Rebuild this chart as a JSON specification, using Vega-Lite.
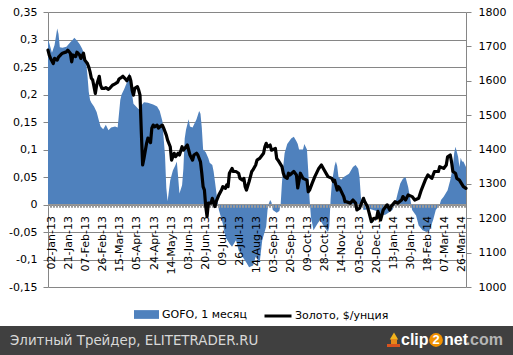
{
  "$schema": "https://vega.github.io/schema/vega-lite/v6.json",
  "width": 418,
  "height": 275,
  "autosize": {"type": "none"},
  "padding": {"left": 48, "top": 12, "right": 47, "bottom": 68},
  "background": "white",
  "config": {
    "view": {"stroke": null},
    "font": "DejaVu Sans",
    "locale": {"number": {"decimal": ",", "thousands": " ", "grouping": [3], "currency": ["", ""], "minus": "-"}}
  },
  "datasets": {
    "gofo": [
      {"i":0,"v":0.30},{"i":1,"v":0.293},{"i":3,"v":0.276},{"i":5,"v":0.29},{"i":7,"v":0.32},{"i":8,"v":0.31},{"i":9,"v":0.286},{"i":11,"v":0.285},{"i":14,"v":0.287},{"i":17,"v":0.295},{"i":19,"v":0.3},{"i":20,"v":0.303},{"i":22,"v":0.298},{"i":24,"v":0.292},{"i":26,"v":0.283},{"i":28,"v":0.27},{"i":29,"v":0.258},{"i":30,"v":0.235},{"i":31,"v":0.205},{"i":32,"v":0.19},{"i":33,"v":0.185},{"i":35,"v":0.178},{"i":37,"v":0.168},{"i":39,"v":0.15},{"i":40,"v":0.142},{"i":42,"v":0.137},{"i":44,"v":0.145},{"i":46,"v":0.135},{"i":48,"v":0.14},{"i":51,"v":0.142},{"i":53,"v":0.14},{"i":54,"v":0.165},{"i":55,"v":0.19},{"i":56,"v":0.2},{"i":58,"v":0.21},{"i":60,"v":0.222},{"i":62,"v":0.24},{"i":63,"v":0.225},{"i":64,"v":0.2},{"i":65,"v":0.183},{"i":67,"v":0.178},{"i":69,"v":0.173},{"i":71,"v":0.18},{"i":73,"v":0.186},{"i":76,"v":0.185},{"i":80,"v":0.182},{"i":83,"v":0.178},{"i":85,"v":0.17},{"i":87,"v":0.152},{"i":88,"v":0.12},{"i":89,"v":0.09},{"i":90,"v":0.03},{"i":91,"v":0.006},{"i":93,"v":0.044},{"i":95,"v":0.062},{"i":97,"v":0.072},{"i":98,"v":0.078},{"i":99,"v":0.05},{"i":100,"v":0.02},{"i":102,"v":0.035},{"i":103,"v":0.065},{"i":104,"v":0.12},{"i":105,"v":0.136},{"i":107,"v":0.155},{"i":108,"v":0.142},{"i":110,"v":0.14},{"i":113,"v":0.155},{"i":115,"v":0.17},{"i":116,"v":0.165},{"i":117,"v":0.14},{"i":118,"v":0.1},{"i":120,"v":0.095},{"i":122,"v":0.084},{"i":123,"v":0.076},{"i":125,"v":0.072},{"i":126,"v":0.06},{"i":127,"v":0.042},{"i":129,"v":0.005},{"i":130,"v":-0.01},{"i":133,"v":-0.035},{"i":135,"v":-0.059},{"i":138,"v":-0.071},{"i":140,"v":-0.077},{"i":143,"v":-0.065},{"i":145,"v":-0.083},{"i":148,"v":-0.095},{"i":151,"v":-0.106},{"i":153,"v":-0.114},{"i":156,"v":-0.111},{"i":158,"v":-0.095},{"i":161,"v":-0.106},{"i":163,"v":-0.065},{"i":166,"v":-0.04},{"i":167,"v":-0.01},{"i":168,"v":0.002},{"i":169,"v":0.008},{"i":170,"v":0.004},{"i":171,"v":-0.01},{"i":174,"v":-0.015},{"i":176,"v":-0.012},{"i":177,"v":0},{"i":178,"v":0.04},{"i":179,"v":0.07},{"i":180,"v":0.093},{"i":182,"v":0.11},{"i":185,"v":0.12},{"i":187,"v":0.123},{"i":189,"v":0.115},{"i":190,"v":0.11},{"i":191,"v":0.1},{"i":194,"v":0.1},{"i":195,"v":0.11},{"i":197,"v":0.1},{"i":198,"v":0.06},{"i":199,"v":0.01},{"i":200,"v":-0.022},{"i":202,"v":-0.047},{"i":205,"v":-0.035},{"i":207,"v":-0.028},{"i":210,"v":-0.04},{"i":213,"v":-0.05},{"i":214,"v":-0.04},{"i":215,"v":0.01},{"i":216,"v":0.04},{"i":218,"v":0.07},{"i":219,"v":0.078},{"i":220,"v":0.07},{"i":221,"v":0.05},{"i":223,"v":0.045},{"i":225,"v":0.05},{"i":229,"v":0.056},{"i":232,"v":0.068},{"i":234,"v":0.072},{"i":236,"v":0.065},{"i":237,"v":0.05},{"i":238,"v":0.014},{"i":239,"v":0},{"i":240,"v":-0.01},{"i":245,"v":-0.008},{"i":250,"v":-0.012},{"i":254,"v":-0.02},{"i":257,"v":-0.018},{"i":262,"v":-0.01},{"i":264,"v":0},{"i":266,"v":0.02},{"i":268,"v":0.038},{"i":270,"v":0.047},{"i":272,"v":0.05},{"i":274,"v":0.032},{"i":276,"v":0.005},{"i":277,"v":-0.01},{"i":280,"v":-0.02},{"i":282,"v":-0.038},{"i":285,"v":-0.047},{"i":288,"v":-0.05},{"i":290,"v":-0.048},{"i":293,"v":-0.028},{"i":295,"v":-0.01},{"i":298,"v":0},{"i":299,"v":0.008},{"i":301,"v":0.014},{"i":304,"v":0.026},{"i":306,"v":0.044},{"i":308,"v":0.068},{"i":309,"v":0.093},{"i":310,"v":0.105},{"i":312,"v":0.087},{"i":313,"v":0.068},{"i":314,"v":0.085},{"i":315,"v":0.078},{"i":316,"v":0.078},{"i":318,"v":0.068}
    ],
    "gold": [
      {"i":0,"g":1689},{"i":1,"g":1674},{"i":2,"g":1665},{"i":4,"g":1650},{"i":5,"g":1665},{"i":7,"g":1660},{"i":8,"g":1669},{"i":10,"g":1677},{"i":11,"g":1680},{"i":14,"g":1684},{"i":15,"g":1689},{"i":17,"g":1680},{"i":18,"g":1655},{"i":19,"g":1675},{"i":21,"g":1670},{"i":22,"g":1683},{"i":24,"g":1675},{"i":25,"g":1665},{"i":27,"g":1680},{"i":28,"g":1660},{"i":30,"g":1650},{"i":31,"g":1640},{"i":32,"g":1626},{"i":33,"g":1607},{"i":34,"g":1602},{"i":36,"g":1563},{"i":37,"g":1587},{"i":39,"g":1613},{"i":40,"g":1587},{"i":41,"g":1578},{"i":43,"g":1578},{"i":44,"g":1580},{"i":46,"g":1575},{"i":47,"g":1578},{"i":49,"g":1587},{"i":51,"g":1591},{"i":53,"g":1596},{"i":54,"g":1605},{"i":56,"g":1610},{"i":57,"g":1613},{"i":59,"g":1605},{"i":60,"g":1600},{"i":62,"g":1613},{"i":63,"g":1600},{"i":64,"g":1573},{"i":65,"g":1558},{"i":66,"g":1578},{"i":68,"g":1583},{"i":69,"g":1573},{"i":70,"g":1558},{"i":71,"g":1450},{"i":72,"g":1355},{"i":73,"g":1374},{"i":75,"g":1418},{"i":76,"g":1433},{"i":78,"g":1420},{"i":79,"g":1462},{"i":80,"g":1471},{"i":81,"g":1466},{"i":83,"g":1471},{"i":84,"g":1462},{"i":85,"g":1466},{"i":87,"g":1471},{"i":88,"g":1462},{"i":89,"g":1452},{"i":90,"g":1442},{"i":91,"g":1427},{"i":93,"g":1408},{"i":94,"g":1369},{"i":96,"g":1389},{"i":97,"g":1379},{"i":99,"g":1389},{"i":100,"g":1384},{"i":102,"g":1408},{"i":103,"g":1398},{"i":105,"g":1408},{"i":106,"g":1413},{"i":108,"g":1384},{"i":110,"g":1369},{"i":111,"g":1384},{"i":113,"g":1389},{"i":114,"g":1384},{"i":116,"g":1364},{"i":117,"g":1331},{"i":118,"g":1292},{"i":119,"g":1282},{"i":120,"g":1234},{"i":121,"g":1205},{"i":122,"g":1244},{"i":124,"g":1244},{"i":125,"g":1258},{"i":127,"g":1234},{"i":128,"g":1249},{"i":130,"g":1268},{"i":132,"g":1282},{"i":133,"g":1292},{"i":135,"g":1287},{"i":136,"g":1297},{"i":137,"g":1292},{"i":138,"g":1331},{"i":140,"g":1345},{"i":141,"g":1336},{"i":143,"g":1336},{"i":145,"g":1331},{"i":146,"g":1316},{"i":148,"g":1311},{"i":149,"g":1316},{"i":150,"g":1292},{"i":151,"g":1282},{"i":153,"g":1307},{"i":154,"g":1321},{"i":155,"g":1336},{"i":156,"g":1341},{"i":158,"g":1355},{"i":159,"g":1369},{"i":161,"g":1374},{"i":164,"g":1389},{"i":165,"g":1408},{"i":166,"g":1418},{"i":167,"g":1408},{"i":169,"g":1413},{"i":170,"g":1398},{"i":173,"g":1403},{"i":174,"g":1374},{"i":175,"g":1369},{"i":178,"g":1350},{"i":179,"g":1331},{"i":180,"g":1321},{"i":182,"g":1316},{"i":183,"g":1331},{"i":184,"g":1326},{"i":187,"g":1336},{"i":189,"g":1326},{"i":190,"g":1288},{"i":192,"g":1331},{"i":194,"g":1316},{"i":197,"g":1311},{"i":198,"g":1277},{"i":199,"g":1282},{"i":201,"g":1302},{"i":203,"g":1321},{"i":206,"g":1345},{"i":208,"g":1355},{"i":210,"g":1341},{"i":213,"g":1321},{"i":216,"g":1316},{"i":217,"g":1307},{"i":218,"g":1311},{"i":220,"g":1282},{"i":221,"g":1292},{"i":222,"g":1287},{"i":225,"g":1263},{"i":226,"g":1248},{"i":227,"g":1248},{"i":230,"g":1244},{"i":232,"g":1253},{"i":234,"g":1244},{"i":235,"g":1224},{"i":237,"g":1229},{"i":240,"g":1258},{"i":241,"g":1248},{"i":243,"g":1234},{"i":244,"g":1220},{"i":246,"g":1190},{"i":248,"g":1200},{"i":250,"g":1200},{"i":251,"g":1220},{"i":253,"g":1195},{"i":255,"g":1224},{"i":258,"g":1239},{"i":260,"g":1224},{"i":261,"g":1234},{"i":264,"g":1248},{"i":266,"g":1244},{"i":269,"g":1253},{"i":270,"g":1263},{"i":272,"g":1253},{"i":274,"g":1268},{"i":277,"g":1263},{"i":279,"g":1253},{"i":282,"g":1258},{"i":284,"g":1282},{"i":287,"g":1311},{"i":289,"g":1326},{"i":292,"g":1316},{"i":294,"g":1336},{"i":297,"g":1336},{"i":298,"g":1350},{"i":301,"g":1345},{"i":303,"g":1355},{"i":304,"g":1379},{"i":306,"g":1384},{"i":307,"g":1364},{"i":308,"g":1336},{"i":310,"g":1331},{"i":311,"g":1316},{"i":313,"g":1311},{"i":316,"g":1292},{"i":318,"g":1287}
    ]
  },
  "layer": [
    {
      "layer": [
        {
          "data": {"name": "gofo"},
          "mark": {"type": "area", "opacity": 1, "interpolate": "linear"},
          "encoding": {
            "x": {
              "field": "i", "type": "quantitative",
              "scale": {"domain": [0, 318], "nice": false, "zero": false},
              "axis": {
                "values": [0,13,26,39,52,65,78,91,104,117,130,143,156,169,182,195,208,221,234,247,260,273,286,299,312],
                "tickCount": 100,
                "labelExpr": "['02-Jan-13','21-Jan-13','07-Feb-13','26-Feb-13','15-Mar-13','05-Apr-13','24-Apr-13','14-May-13','03-Jun-13','20-Jun-13','09-Jul-13','26-Jul-13','14-Aug-13','03-Sep-13','20-Sep-13','09-Oct-13','28-Oct-13','14-Nov-13','03-Dec-13','20-Dec-13','13-Jan-14','30-Jan-14','18-Feb-14','07-Mar-14','26-Mar-14'][round(datum.value/13)]",
                "labelAngle": 270, "offset": -82.5, "ticks": false, "tickSize": 0, "domain": false, "grid": false,
                "labelPadding": 11, "labelOffset": 3.5, "labelFontSize": 11, "labelColor": "#000000", "title": null,
                "zindex": 1, "labelOverlap": false, "labelBound": false, "labelFlush": false
              }
            },
            "y": {
              "field": "v", "type": "quantitative",
              "scale": {"domain": [-0.15, 0.35], "nice": false},
              "axis": {
                "orient": "left",
                "values": [-0.15,-0.1,-0.05,0,0.05,0.1,0.15,0.2,0.25,0.3,0.35],
                "tickCount": 100, "labelOverlap": false,
                "format": ".2~f", "grid": true, "gridColor": "#868686", "gridOpacity": 1,
                "domainColor": "#868686", "tickColor": "#868686", "tickSize": 5, "labelPadding": 6,
                "labelFontSize": 11, "labelColor": "#000000", "title": null, "labelFlush": false
              }
            },
            "fill": {
              "datum": "GOFO, 1 месяц",
              "scale": {"range": ["#4F81BD"]},
              "legend": {
                "orient": "none", "legendX": 86, "legendY": 290, "title": null, "padding": 0,
                "symbolType": "M-1,-0.35H1V0.35H-1Z", "symbolSize": 625, "symbolStrokeWidth": 0, "symbolOpacity": 1,
                "labelFontSize": 11, "labelColor": "#000000", "labelOffset": 3
              }
            }
          }
        },
        {
          "data": {"values": [{}]},
          "mark": {"type": "rule", "color": "#969696", "strokeWidth": 1.2},
          "encoding": {"y": {"datum": 0}}
        },
        {
          "data": {"values": [{}]},
          "mark": {"type": "rule", "color": "#9a9a9a", "strokeWidth": 2.5, "strokeDash": [2, 1], "yOffset": 2}, 
          "encoding": {"y": {"datum": 0}}
        }
      ]
    },
    {
      "data": {"name": "gold"},
      "mark": {"type": "line", "strokeWidth": 3.2, "strokeJoin": "round", "strokeCap": "round"},
      "encoding": {
        "x": {"field": "i", "type": "quantitative"},
        "y": {
          "field": "g", "type": "quantitative",
          "scale": {"domain": [1000, 1800], "nice": false, "zero": false},
          "axis": {
            "orient": "right",
            "values": [1000,1100,1200,1300,1400,1500,1600,1700,1800],
            "tickCount": 100, "labelOverlap": false,
            "format": "d", "grid": false, "domainColor": "#868686", "tickColor": "#868686",
            "tickSize": 5, "labelPadding": 7, "labelFontSize": 11, "labelColor": "#000000", "title": null, "labelFlush": false
          }
        },
        "stroke": {
          "datum": "Золото, $/унция",
          "scale": {"range": ["#000000"]},
          "legend": {
            "orient": "none", "legendX": 215, "legendY": 289, "title": null, "padding": 0,
            "symbolType": "stroke", "symbolSize": 729, "symbolStrokeWidth": 3,
            "labelFontSize": 11, "labelColor": "#000000", "labelOffset": 2
          }
        }
      }
    },
    {
      "data": {"values": [{}]},
      "mark": {"type": "rect", "color": "#404040"},
      "encoding": {"x": {"value": -48}, "x2": {"value": 465}, "y": {"value": 314}, "y2": {"value": 343}}
    },
    {
      "data": {"values": [{}]},
      "mark": {"type": "text", "align": "left", "baseline": "middle", "fontSize": 13.4, "color": "#d8d8d8", "font": "DejaVu Sans"},
      "encoding": {"x": {"value": -38}, "y": {"value": 329}, "text": {"value": "Элитный Трейдер, ELITETRADER.RU"}}
    },
    {
      "data": {"values": [{}]},
      "mark": {"type": "point", "shape": "triangle-up", "filled": true, "size": 70, "color": "#f2b31c", "opacity": 1},
      "encoding": {"x": {"value": 346}, "y": {"value": 324}}
    },
    {
      "data": {"values": [{}]},
      "mark": {"type": "rect", "color": "#e8891a"},
      "encoding": {"x": {"value": 343}, "x2": {"value": 349}, "y": {"value": 327}, "y2": {"value": 333}}
    },
    {
      "data": {"values": [{}]},
      "mark": {"type": "rect", "color": "#d9531e"},
      "encoding": {"x": {"value": 339}, "x2": {"value": 352}, "y": {"value": 332}, "y2": {"value": 335}}
    },
    {
      "data": {"values": [{}]},
      "mark": {"type": "text", "align": "left", "baseline": "middle", "fontSize": 16, "fontWeight": "bold", "color": "#ffffff", "font": "Liberation Sans"},
      "encoding": {"x": {"value": 353}, "y": {"value": 328}, "text": {"value": "clip"}}
    },
    {
      "data": {"values": [{}]},
      "mark": {"type": "point", "shape": "circle", "filled": true, "size": 190, "color": "#f29100", "opacity": 1},
      "encoding": {"x": {"value": 388}, "y": {"value": 328}}
    },
    {
      "data": {"values": [{}]},
      "mark": {"type": "text", "align": "center", "baseline": "middle", "fontSize": 13, "fontWeight": "bold", "color": "#ffffff", "font": "Liberation Sans"},
      "encoding": {"x": {"value": 388}, "y": {"value": 328}, "text": {"value": "2"}}
    },
    {
      "data": {"values": [{}]},
      "mark": {"type": "text", "align": "left", "baseline": "middle", "fontSize": 16, "fontWeight": "bold", "color": "#ffffff", "font": "Liberation Sans"},
      "encoding": {"x": {"value": 396}, "y": {"value": 328}, "text": {"value": "net"}}
    },
    {
      "data": {"values": [{}]},
      "mark": {"type": "text", "align": "right", "baseline": "middle", "fontSize": 16, "fontWeight": "bold", "color": "#b5b5b5", "font": "Liberation Sans"},
      "encoding": {"x": {"value": 455}, "y": {"value": 328}, "text": {"value": ".com"}}
    }
  ],
  "resolve": {"scale": {"y": "independent"}}
}
